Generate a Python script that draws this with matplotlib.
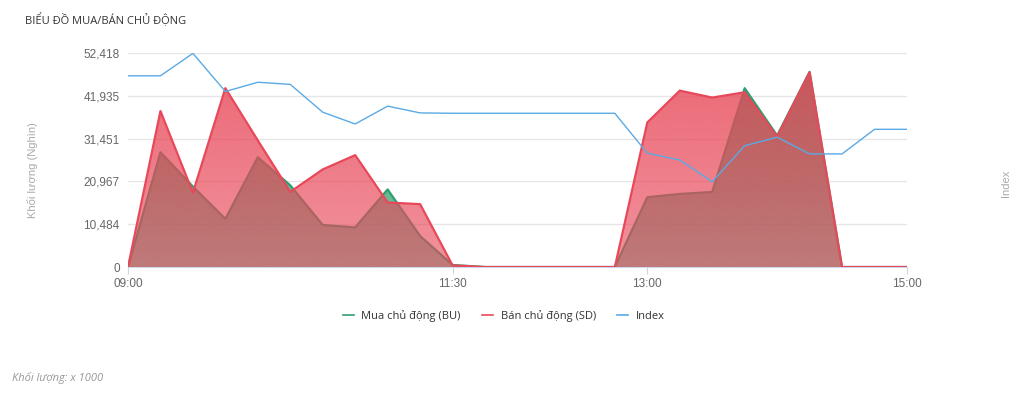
import matplotlib
matplotlib.use("Agg")
import matplotlib.pyplot as plt
import matplotlib.colors as mcolors
import numpy as np

# ---- du lieu (doc tu hinh) ----
gio = ["09:00", "09:15", "09:30", "09:45", "10:00", "10:15", "10:30", "10:45",
       "11:00", "11:15", "11:30", "11:45", "12:00", "12:15", "12:30", "12:45",
       "13:00", "13:15", "13:30", "13:45", "14:00", "14:15", "14:30", "14:45",
       "15:00"]
mua_bu = [0, 28100, 19700, 11800, 26900, 20000, 10300, 9700, 19000, 7600,
          500, 0, 0, 0, 0, 0,
          17100, 17900, 18400, 43800, 32200, 47800, 0, 0, 0]
ban_sd = [0, 38200, 18200, 43800, 31000, 18400, 23900, 27400, 15800, 15400,
          400, 0, 0, 0, 0, 0,
          35400, 43200, 41500, 42800, 31900, 47700, 0, 0, 0]
index = [1293.6, 1293.6, 1299.9, 1289.2, 1291.8, 1291.2, 1283.4, 1280.1,
         1285.1, 1283.2, 1283.1, 1283.1, 1283.1, 1283.1, 1283.1, 1283.1,
         1271.9, 1270.0, 1263.9, 1274.0, 1276.4, 1271.7, 1271.7, 1278.6,
         1278.6]
nhan_truc_x = ["09:00", "11:30", "13:00", "15:00"]
vach_y = [0, 10484, 20967, 31451, 41935, 52418]
gioi_han_index = (1240, 1300)

XANH = "#2f9e6e"
DO = "#e8495a"
LAM = "#5aaae6"

plt.rcParams['font.family'] = ['Liberation Sans', 'DejaVu Sans']

fig = plt.figure(figsize=(10.24, 3.94), dpi=100)
ax = fig.add_axes([0.125, 0.3223, 0.7607, 0.5432])
x = np.arange(len(gio))
y_max = vach_y[-1]


def to_mau_gradient(ax, x, y, mau, a_tren, a_duoi, z):
    """Vung to co do trong suot thay doi theo chieu doc."""
    poly = ax.fill_between(x, 0, y, facecolor='none', edgecolor='none')
    img = np.zeros((200, 1, 4))
    img[:, :, :3] = mcolors.to_rgb(mau)
    img[:, 0, 3] = np.linspace(a_tren, a_duoi, 200)
    im = ax.imshow(img, aspect='auto', extent=[x[0], x[-1], 0, y_max],
                   origin='upper', interpolation='bilinear', zorder=z)
    im.set_clip_path(poly.get_paths()[0], transform=ax.transData)


# Mua chu dong (duoi), Ban chu dong (tren)
to_mau_gradient(ax, x, mua_bu, XANH, 1.0, 0.6, 2)
ax.plot(x, mua_bu, color=XANH, lw=1.6, zorder=3)
to_mau_gradient(ax, x, ban_sd, DO, 0.85, 0.6, 4)
ax.plot(x, ban_sd, color=DO, lw=1.6, zorder=5)

ax.set_xlim(x[0], x[-1])
ax.set_ylim(0, y_max)
ax.set_aspect('auto')
ax.set_yticks(vach_y)
ax.set_yticklabels([f"{v:,}" for v in vach_y])
ax.set_xticks([gio.index(t) for t in nhan_truc_x])
ax.set_xticklabels(nhan_truc_x)
ax.grid(axis='y', color='#e6e6e6', lw=1, zorder=0)
ax.set_axisbelow(True)
for s in ['top', 'right', 'left']:
    ax.spines[s].set_visible(False)
ax.spines['bottom'].set_color('#ccd6eb')
ax.tick_params(axis='y', length=0, labelsize=8.5, labelcolor='#666666', pad=6)
ax.tick_params(axis='x', length=5, color='#ccd6eb', labelsize=8.5,
               labelcolor='#666666', pad=3)

# Index (truc phai, an so)
ax2 = ax.twinx()
ax2.plot(x, index, color=LAM, lw=1, zorder=6)
ax2.set_ylim(*gioi_han_index)
ax2.set_yticks([])
for s in ax2.spines.values():
    s.set_visible(False)

# chu
fig.text(25 / 1024, 1 - 20 / 394, "BIỂU ĐỒ MUA/BÁN CHỦ ĐỘNG", fontsize=8,
         color='#333333', va='center', ha='left',
         family=['Open Sans', 'DejaVu Sans'])
fig.text(33 / 1024, 1 - 170 / 394, "Khối lượng (Nghìn)", rotation=90,
         fontsize=8, color='#aaaaaa', va='center', ha='center')
fig.text(1006 / 1024, 1 - 183 / 394, "Index", rotation=90,
         fontsize=8, color='#aaaaaa', va='center', ha='center')
fig.text(12 / 1024, 1 - 378 / 394, "Khối lượng: x 1000", fontsize=8,
         color='#999999', style='italic', va='center', ha='left',
         family=['Open Sans', 'DejaVu Sans'])

# chu thich
tay_cam = [plt.Line2D([], [], color=c, lw=1.2) for c in (XANH, DO, LAM)]
fig.legend(tay_cam, ["Mua chủ động (BU)", "Bán chủ động (SD)", "Index"],
           loc='center', bbox_to_anchor=(0.492, 1 - 316 / 394), ncol=3,
           frameon=False, handlelength=1.0, handletextpad=0.7,
           columnspacing=1.9, prop={'family': ['Open Sans', 'DejaVu Sans'], 'size': 8},
           labelcolor='#333333')

fig.savefig("out.png", dpi=100)
